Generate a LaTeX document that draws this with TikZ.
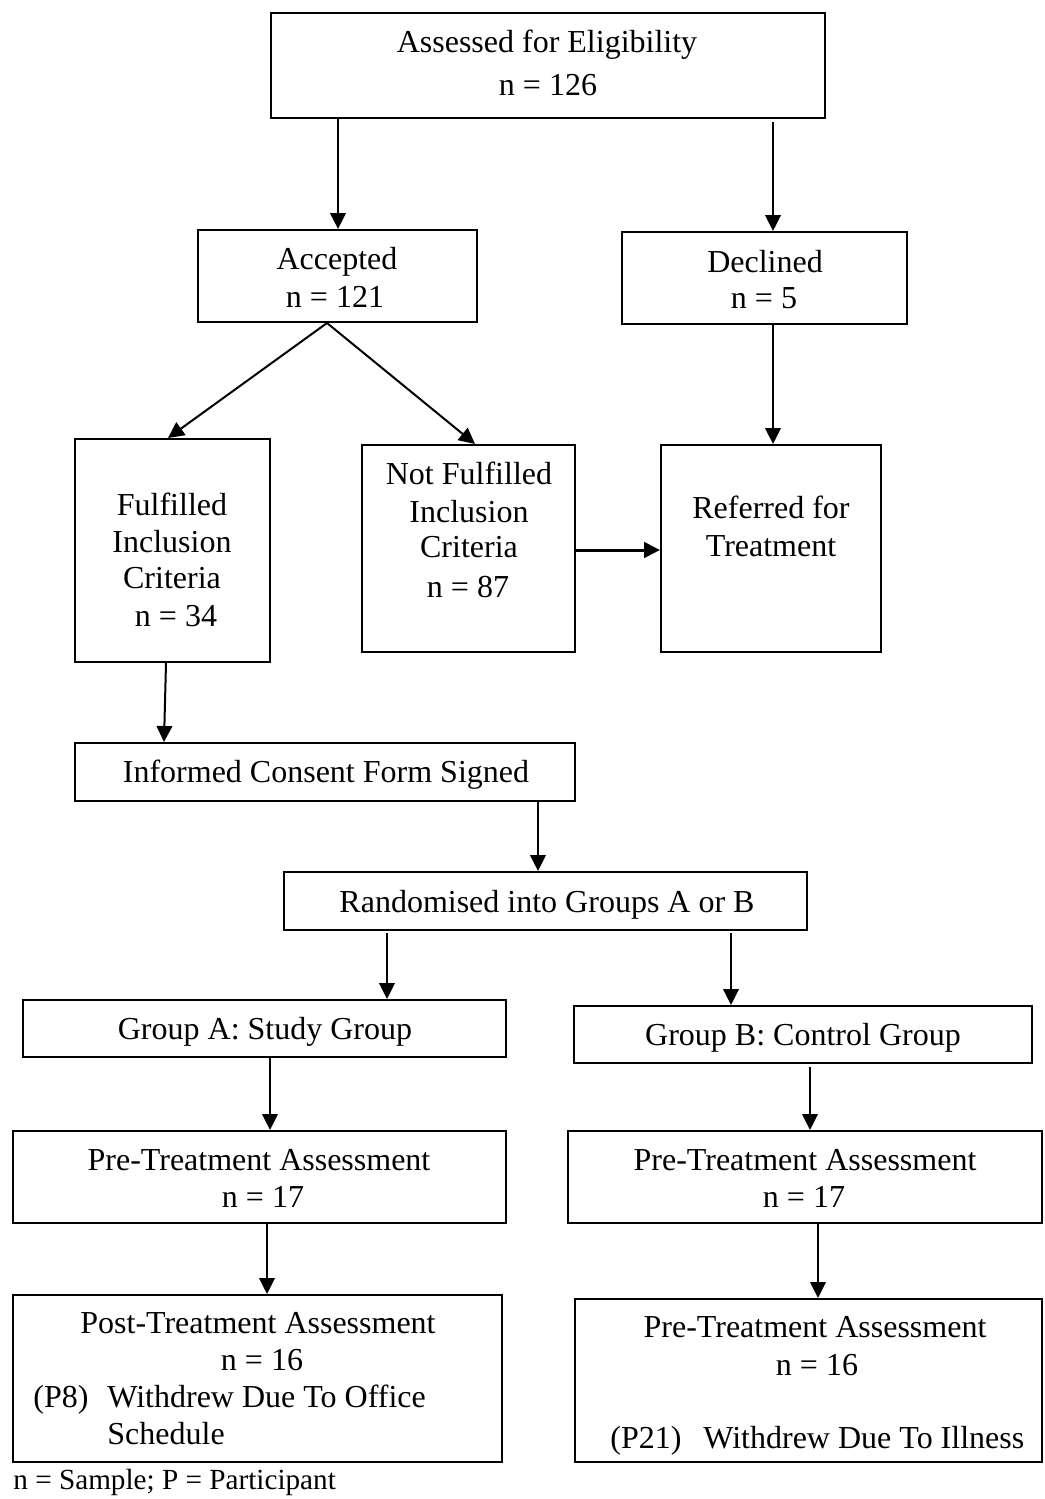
\documentclass[tikz,border=0pt]{standalone}
\usepackage{fontspec}
\setmainfont{Liberation Serif}
\usetikzlibrary{arrows.meta,fit}
\tikzset{
  box/.style={draw, line width=1pt, inner sep=0pt},
  arr/.style={-{Triangle[length=8pt,width=7.8pt]}, line width=1pt},
  txt/.style={anchor=base, inner sep=0pt, font=\fontsize{16}{19}\selectfont},
  txtl/.style={anchor=base west, inner sep=0pt, font=\fontsize{16}{19}\selectfont},
}
\begin{document}
\begin{tikzpicture}[x=0.5pt,y=-0.5pt]
\useasboundingbox (0,0) rectangle (1044,1499);

% boxes
\node[box, fit={(271,13) (825,118)}] (elig) {};
\node[box, fit={(198,230) (477,322)}] (acc) {};
\node[box, fit={(622,232) (907,324)}] (dec) {};
\node[box, fit={(75,439) (270,662)}] (ful) {};
\node[box, fit={(362,445) (575,652)}] (notf) {};
\node[box, fit={(661,445) (881,652)}] (ref) {};
\node[box, fit={(75,743) (575,801)}] (cons) {};
\node[box, fit={(284,872) (807,930)}] (rand) {};
\node[box, fit={(23,1000) (506,1057)}] (grpA) {};
\node[box, fit={(574,1006) (1032,1063)}] (grpB) {};
\node[box, fit={(13,1131) (506,1223)}] (preA) {};
\node[box, fit={(568,1131) (1042,1223)}] (preB) {};
\node[box, fit={(13,1295) (502,1462)}] (postA) {};
\node[box, fit={(575,1299) (1042,1462)}] (preBb) {};

% texts
\node[txt] (t1) at (547,53) {Assessed for Eligibility};
\node[txt] (t2) at (548,95) {n = 126};
\node[txt] (t3) at (337,269) {Accepted};
\node[txt] (t4) at (335,307) {n = 121};
\node[txt] (t5) at (765,272) {Declined};
\node[txt] (t6) at (764,308) {n = 5};
\node[txt] (t7) at (172,515) {Fulfilled};
\node[txt] (t8) at (172,552) {Inclusion};
\node[txt] (t9) at (172,588) {Criteria};
\node[txt] (t10) at (176,626) {n = 34};
\node[txt] (t11) at (469,484) {Not Fulfilled};
\node[txt] (t12) at (469,522) {Inclusion};
\node[txt] (t13) at (469,557) {Criteria};
\node[txt] (t14) at (468,597) {n = 87};
\node[txt] (t15) at (771,518) {Referred for};
\node[txt] (t16) at (771,556) {Treatment};
\node[txt] (t17) at (326,782) {Informed Consent Form Signed};
\node[txt] (t18) at (547,912) {Randomised into Groups A or B};
\node[txt] (t19) at (265,1039) {Group A: Study Group};
\node[txt] (t20) at (803,1045) {Group B: Control Group};
\node[txt] (t21) at (259,1170) {Pre-Treatment Assessment};
\node[txt] (t22) at (263,1207) {n = 17};
\node[txt] (t23) at (805,1170) {Pre-Treatment Assessment};
\node[txt] (t24) at (804,1207) {n = 17};
\node[txt] (t25) at (258,1333) {Post-Treatment Assessment};
\node[txt] (t26) at (262,1370) {n = 16};
\node[txtl] (t27) at (33,1407) {(P8)};
\node[txtl] (t28) at (107,1407) {Withdrew Due To Office};
\node[txtl] (t29) at (107,1444) {Schedule};
\node[txt] (t30) at (815,1337) {Pre-Treatment Assessment};
\node[txt] (t31) at (817,1375) {n = 16};
\node[txtl] (t32) at (610,1448) {(P21)};
\node[txtl] (t33) at (703,1448) {Withdrew Due To Illness};
\node[anchor=base west, inner sep=0pt, font=\fontsize{14.6}{18}\selectfont] (note) at (13,1489) {n = Sample; P = Participant};

% connectors
\draw[arr] (elig.south -| 338,0) -- (acc.north -| 338,0);
\draw[arr, shorten <=1.5pt] (elig.south -| 773,0) -- (dec.north -| 773,0);
\draw[arr] (acc.south -| 327,0) -- (ful.north -| 168,0);
\draw[arr] (acc.south -| 327,0) -- (notf.north -| 475,0);
\draw[arr] (dec.south -| 773,0) -- (ref.north -| 773,0);
\draw[arr, line width=1.5pt] (notf.east |- 0,550) -- (ref.west |- 0,550);
\draw[arr] (ful.south -| 166,0) -- (cons.north -| 164,0);
\draw[arr] (cons.south -| 538,0) -- (rand.north -| 538,0);
\draw[arr, shorten <=1pt] (rand.south -| 387,0) -- (grpA.north -| 387,0);
\draw[arr, shorten <=1pt] (rand.south -| 731,0) -- (grpB.north -| 731,0);
\draw[arr] (grpA.south -| 270,0) -- (preA.north -| 270,0);
\draw[arr, shorten <=1.5pt] (grpB.south -| 810,0) -- (preB.north -| 810,0);
\draw[arr] (preA.south -| 267,0) -- (postA.north -| 267,0);
\draw[arr] (preB.south -| 818,0) -- (preBb.north -| 818,0);
\end{tikzpicture}
\end{document}
